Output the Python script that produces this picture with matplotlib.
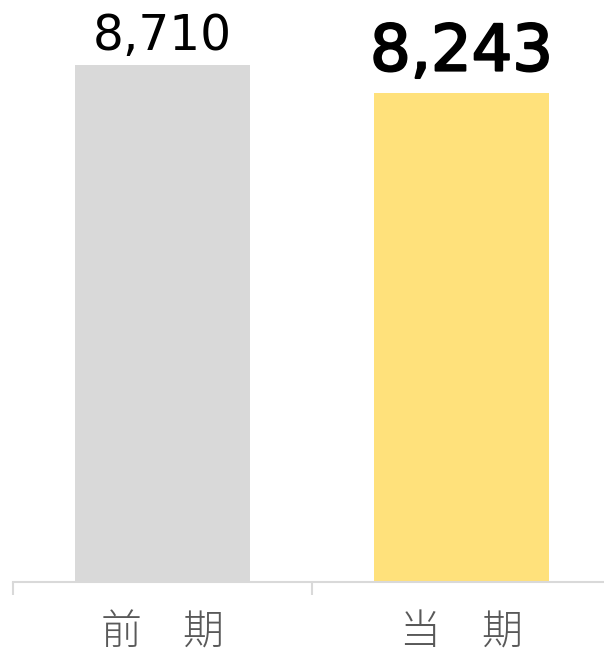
import matplotlib
matplotlib.use("Agg")
import matplotlib.pyplot as plt
import matplotlib.patheffects as pe

categories = ["前\u3000期", "当\u3000期"]
values = [8710, 8243]
value_labels = ["8,710", "8,243"]
colors = ["#d9d9d9", "#ffe17b"]

W, H = 604, 654
fig = plt.figure(figsize=(W / 100, H / 100), dpi=100)
ax_left = 13 / W
ax_bottom = (H - 582) / H
ax_w = 598 / W
ax_h = 582 / H
ax = fig.add_axes([ax_left, ax_bottom, ax_w, ax_h])

x = list(range(len(categories)))
ax.bar(x, values, width=0.585, color=colors, zorder=2)

scale = 517 / 8710  # px per unit
ax.set_ylim(0, 582 / scale)
ax.set_xlim(-0.5, 1.5)

for s in ["top", "right", "left"]:
    ax.spines[s].set_visible(False)
ax.spines["bottom"].set_color("#d9d9d9")
ax.spines["bottom"].set_linewidth(1.5)
ax.set_yticks([])
ax.set_xticks([-0.5, 0.5, 1.5])
ax.set_xticklabels([])
ax.tick_params(axis="x", length=9, width=1.5, color="#d9d9d9", direction="out")

for xi, c in zip(x, categories):
    ax.text(xi, -(633 - 582) / 582, c, transform=ax.get_xaxis_transform(), ha="center", va="center",
            fontsize=29.5, color="#595959", family=["Noto Sans CJK JP", "DejaVu Sans"],
            fontweight="light")

sizes = [35, 46]
offsets = [11, 16]
strokes = [0, 1.6]
for xi, v, lab, fs, off, sw in zip(x, values, value_labels, sizes, offsets, strokes):
    t = ax.annotate(lab, (xi, v), xytext=(0, off), textcoords="offset points",
                    ha="center", va="baseline", fontsize=fs, fontweight="normal",
                    color="#000000", family="DejaVu Sans")
    if sw > 0:
        t.set_path_effects([pe.withStroke(linewidth=sw, foreground="#000000")])

fig.savefig("out.png", dpi=100)
